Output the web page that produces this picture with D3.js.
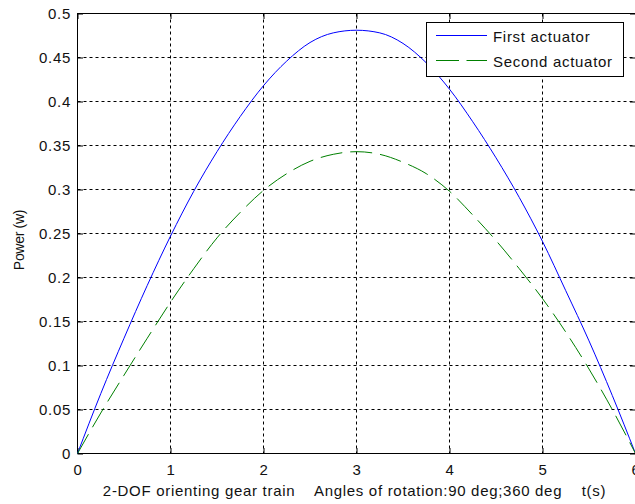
<!DOCTYPE html>
<html>
<head>
<meta charset="utf-8">
<script src="https://cdn.jsdelivr.net/npm/d3@7/dist/d3.min.js"></script>
<style>
  html, body { margin: 0; padding: 0; background: #fff; }
  svg { display: block; }
  text { font-family: "Liberation Sans", Arial, sans-serif; fill: #111; }
</style>
</head>
<body>
<script>
// ---- data ----
const times = [0, 0.25, 0.5, 0.75, 1, 1.25, 1.5, 1.75, 2, 2.25, 2.5, 2.75, 3,
               3.25, 3.5, 3.75, 4, 4.25, 4.5, 4.75, 5, 5.25, 5.5, 5.75, 6];
const firstActuator = [0, 0.068, 0.131, 0.191, 0.247, 0.298, 0.343, 0.383, 0.418, 0.446, 0.467, 0.478, 0.481,
                       0.478, 0.466, 0.444, 0.414, 0.377, 0.336, 0.291, 0.241, 0.185, 0.128, 0.066, 0];
const secondActuator = [0, 0.046, 0.089, 0.131, 0.172, 0.210, 0.245, 0.274, 0.299, 0.318, 0.332, 0.340, 0.343,
                        0.340, 0.331, 0.318, 0.298, 0.271, 0.242, 0.210, 0.176, 0.138, 0.096, 0.050, 0];
const seriesNames = ["First actuator", "Second actuator"];
const xTicks = [0, 1, 2, 3, 4, 5, 6];
const xTickLabels = ["0", "1", "2", "3", "4", "5", "6"];
const yTicks = [0, 0.05, 0.1, 0.15, 0.2, 0.25, 0.3, 0.35, 0.4, 0.45, 0.5];
const yTickLabels = ["0", "0.05", "0.1", "0.15", "0.2", "0.25", "0.3", "0.35", "0.4", "0.45", "0.5"];
const xLabel = "2-DOF orienting gear train    Angles of rotation:90 deg;360 deg    t(s)";
const yLabel = "Power (w)";

(function () {
// ---- layout ----
const W = 635, H = 504;
const pL = 77.5, pR = 635.5, pT = 13.5, pB = 453.5;
const tickLen = 5.5;
const fontSize = 15;
const ls = "0.7px";

const svg = d3.select("body").append("svg")
  .attr("width", W).attr("height", H);

const x = d3.scaleLinear().domain([0, 6]).range([pL, pR]);
const y = d3.scaleLinear().domain([0, 0.5]).range([pB, pT]);

// gridlines
const grid = svg.append("g").attr("class", "grid");
grid.selectAll("line.gx").data(xTicks.slice(1, -1)).enter().append("line")
  .attr("x1", d => x(d)).attr("x2", d => x(d))
  .attr("y1", pT).attr("y2", pB)
  .attr("stroke", "#000").attr("stroke-width", 1).attr("stroke-dasharray", "3,3");
grid.selectAll("line.gy").data(yTicks.slice(1, -1)).enter().append("line")
  .attr("y1", d => y(d)).attr("y2", d => y(d))
  .attr("x1", pL).attr("x2", pR)
  .attr("stroke", "#000").attr("stroke-width", 1).attr("stroke-dasharray", "3,3");

// axes with inward ticks
const styleAxis = g => {
  g.select(".domain").remove();
  g.selectAll(".tick line").attr("stroke", "#000").attr("stroke-width", 1);
  g.selectAll(".tick text")
    .style("font-size", fontSize + "px")
    .style("letter-spacing", ls)
    .attr("fill", "#111");
};

const axB = d3.axisBottom(x).tickValues(xTicks)
  .tickFormat((d, i) => xTickLabels[i]).tickSizeInner(-tickLen).tickSizeOuter(0).tickPadding(8);
svg.append("g").attr("transform", `translate(0,${pB})`).call(axB).call(styleAxis)
  .selectAll(".tick text").attr("y", 21.5).attr("dy", null);

const axL = d3.axisLeft(y).tickValues(yTicks)
  .tickFormat((d, i) => yTickLabels[i]).tickSizeInner(-tickLen).tickSizeOuter(0).tickPadding(6.5);
svg.append("g").attr("transform", `translate(${pL},0)`).call(axL).call(styleAxis)
  .selectAll(".tick text").attr("x", -6.5).attr("dy", "0.36em");

const axT = d3.axisTop(x).tickValues(xTicks).tickFormat("").tickSizeInner(-tickLen).tickSizeOuter(0);
svg.append("g").attr("transform", `translate(0,${pT})`).call(axT).call(styleAxis);

const axR = d3.axisRight(y).tickValues(yTicks).tickFormat("").tickSizeInner(-tickLen).tickSizeOuter(0);
svg.append("g").attr("transform", `translate(${pR},0)`).call(axR).call(styleAxis);

// frame
svg.append("rect")
  .attr("x", pL).attr("y", pT)
  .attr("width", pR - pL).attr("height", pB - pT)
  .attr("fill", "none").attr("stroke", "#000").attr("stroke-width", 1);

// series
const line = d3.line().x(d => x(d[0])).y(d => y(d[1])).curve(d3.curveMonotoneX);
const s1 = times.map((t, i) => [t, firstActuator[i]]);
const s2 = times.map((t, i) => [t, secondActuator[i]]);

svg.append("path").datum(s1).attr("d", line)
  .attr("fill", "none").attr("stroke", "#0000ff").attr("stroke-width", 1);
svg.append("path").datum(s2).attr("d", line)
  .attr("fill", "none").attr("stroke", "#008000").attr("stroke-width", 1)
  .attr("stroke-dasharray", "22,8");

// labels
svg.append("text")
  .attr("x", (pL + 633.5) / 2 - 1).attr("y", 495.5)
  .attr("text-anchor", "middle")
  .style("font-size", fontSize + "px")
  .style("letter-spacing", ls)
  .style("white-space", "pre")
  .text(xLabel);

svg.append("text")
  .attr("transform", "translate(23.5,240) rotate(-90)")
  .attr("text-anchor", "middle")
  .style("font-size", "14px")
  .style("letter-spacing", "-0.3px")
  .text(yLabel);

// legend
const lg = svg.append("g");
lg.append("rect")
  .attr("x", 426.5).attr("y", 22.5).attr("width", 197).attr("height", 54)
  .attr("fill", "#fff").attr("stroke", "#000").attr("stroke-width", 1);
const legendRows = [
  { name: seriesNames[0], color: "#0000ff", dash: null, ly: 35.5 },
  { name: seriesNames[1], color: "#008000", dash: "23,7.5", ly: 60.5 }
];
legendRows.forEach(r => {
  lg.append("line")
    .attr("x1", 436).attr("x2", 487).attr("y1", r.ly).attr("y2", r.ly)
    .attr("stroke", r.color).attr("stroke-width", 1)
    .attr("stroke-dasharray", r.dash);
  lg.append("text")
    .attr("x", 493).attr("y", r.ly + 6.5)
    .style("font-size", fontSize + "px")
    .style("letter-spacing", ls)
    .text(r.name);
});
})();
</script>
</body>
</html>
